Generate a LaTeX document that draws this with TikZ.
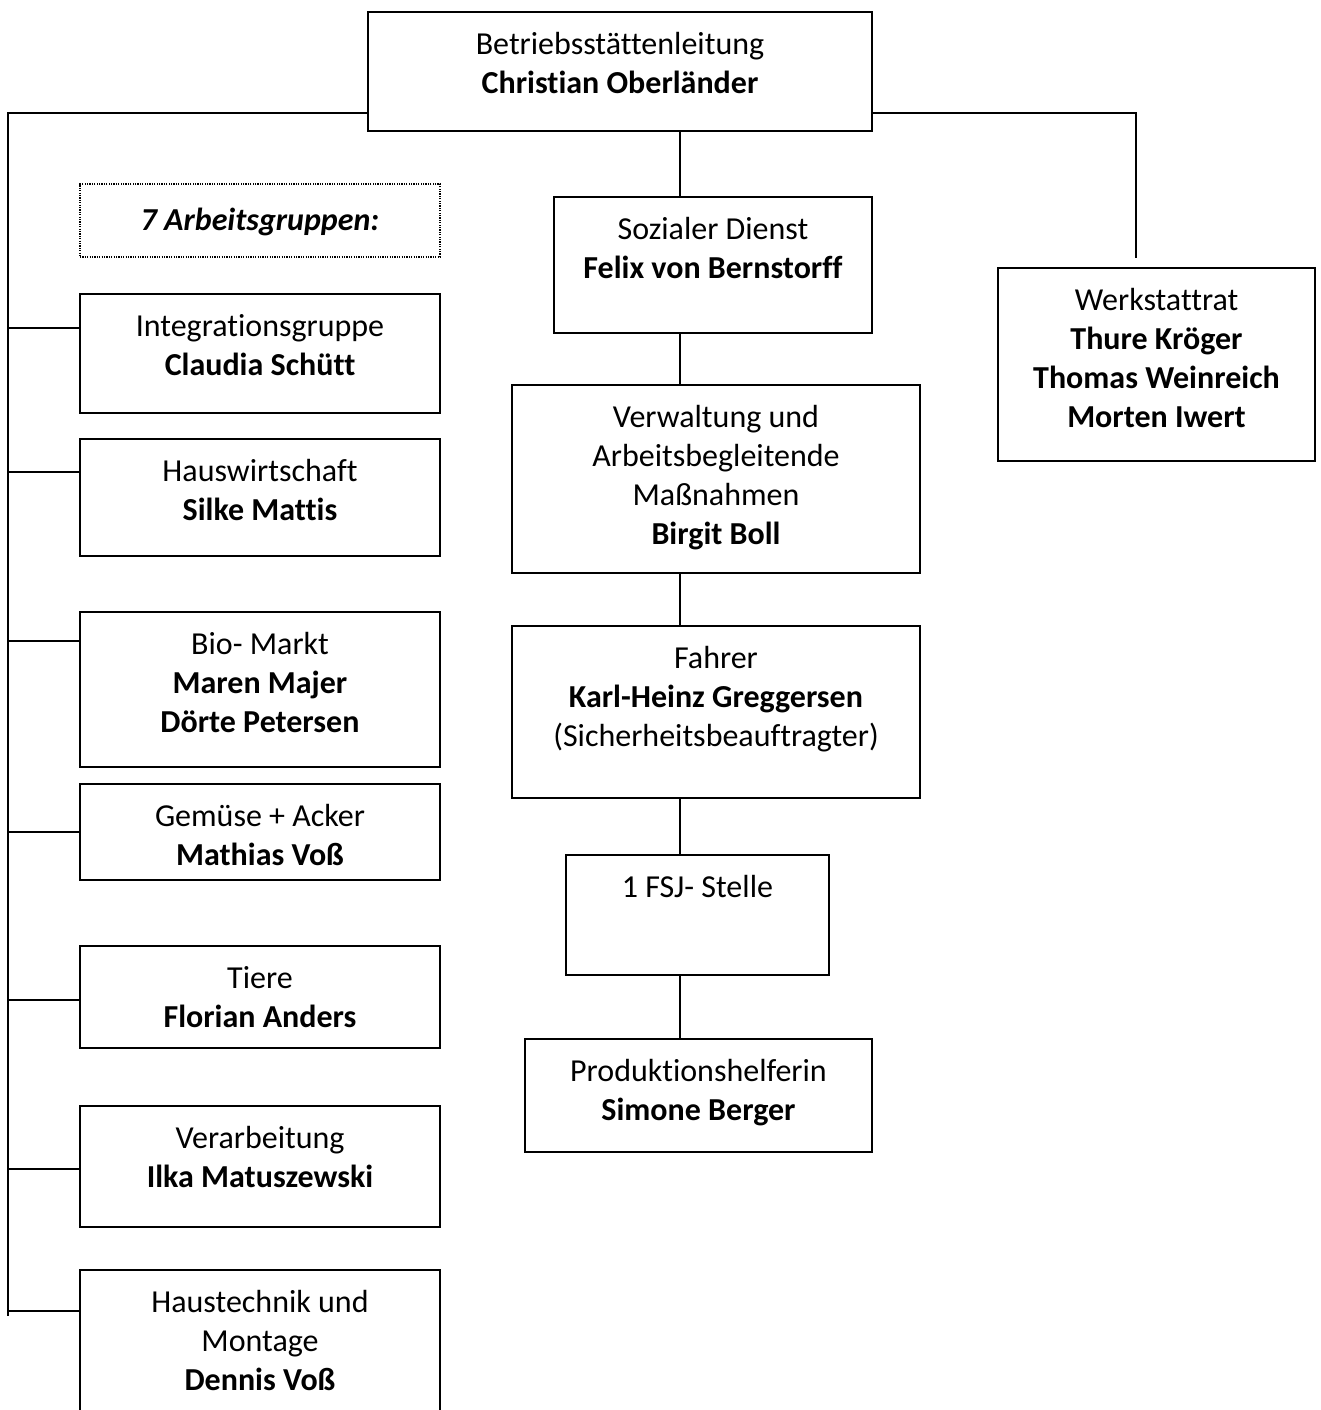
\documentclass[tikz,border=0pt]{standalone}
\usepackage{fontspec}
\setmainfont{Carlito}[Ligatures={NoCommon}]
\usetikzlibrary{fit}
\newcommand\tstrut{\rule{0pt}{30pt}}
\begin{document}
\begin{tikzpicture}[x=1pt,y=-1pt,
  box/.style={draw, line width=2pt, inner sep=0pt, rectangle},
  dotbox/.style={draw, line width=1.2pt, dash pattern=on 1.2pt off 1.2pt, inner sep=0pt, rectangle},
  txt/.style={align=center, inner sep=0pt, anchor=north, yshift=-13pt,
    font=\fontsize{32}{39}\selectfont},
  conn/.style={line width=1.6pt}]
\useasboundingbox (0,0) rectangle (1320,1410);
\clip (0,0) rectangle (1320,1410);
\fill[white] (0,0) rectangle (1320,1410);

% boxes
\node[box, fit={(368,12)(872,131)}] (top) {};
\node[dotbox, fit={(80,184)(440,257)}] (ag) {};
\node[box, fit={(80,294)(440,413)}] (intg) {};
\node[box, fit={(80,439)(440,556)}] (hw) {};
\node[box, fit={(80,612)(440,767)}] (bio) {};
\node[box, fit={(80,784)(440,880)}] (gem) {};
\node[box, fit={(80,946)(440,1048)}] (tie) {};
\node[box, fit={(80,1106)(440,1227)}] (ver) {};
\node[box, fit={(80,1270)(440,1450)}] (ht) {};
\node[box, fit={(554,197)(872,333)}] (soz) {};
\node[box, fit={(512,385)(920,573)}] (vw) {};
\node[box, fit={(512,626)(920,798)}] (fa) {};
\node[box, fit={(566,855)(829,975)}] (fsj) {};
\node[box, fit={(525,1039)(872,1152)}] (ph) {};
\node[box, fit={(998,268)(1315,461)}] (wr) {};

% texts
\node[txt] (topt) at (top.north) {\tstrut Betriebsstättenleitung\\\textbf{Christian Oberländer}};
\node[txt, yshift=-4pt] (agt) at (ag.north) {\tstrut\textbf{\textit{7 Arbeitsgruppen:}}};
\node[txt] (intgt) at (intg.north) {\tstrut Integrationsgruppe\\\textbf{Claudia Schütt}};
\node[txt] (hwt) at (hw.north) {\tstrut Hauswirtschaft\\\textbf{Silke Mattis}};
\node[txt] (biot) at (bio.north) {\tstrut Bio- Markt\\\textbf{Maren Majer}\\\textbf{Dörte Petersen}};
\node[txt] (gemt) at (gem.north) {\tstrut Gemüse + Acker\\\textbf{Mathias Voß}};
\node[txt] (tiet) at (tie.north) {\tstrut Tiere\\\textbf{Florian Anders}};
\node[txt] (vert) at (ver.north) {\tstrut Verarbeitung\\\textbf{Ilka Matuszewski}};
\node[txt] (htt) at (ht.north) {\tstrut Haustechnik und\\Montage\\\textbf{Dennis Voß}};
\node[txt] (sozt) at (soz.north) {\tstrut Sozialer Dienst\\\textbf{Felix von Bernstorff}};
\node[txt] (vwt) at (vw.north) {\tstrut Verwaltung und\\Arbeitsbegleitende\\Maßnahmen\\\textbf{Birgit Boll}};
\node[txt] (fat) at (fa.north) {\tstrut Fahrer\\\textbf{Karl-Heinz Greggersen}\\(Sicherheitsbeauftragter)};
\node[txt] (fsjt) at (fsj.north) {\tstrut 1 FSJ- Stelle};
\node[txt] (pht) at (ph.north) {\tstrut Produktionshelferin\\\textbf{Simone Berger}};
\node[txt] (wrt) at (wr.north) {\tstrut Werkstattrat\\\textbf{Thure Kröger}\\\textbf{Thomas Weinreich}\\\textbf{Morten Iwert}};

% connectors
\coordinate (mx) at (680,0);
\draw[conn] (top.south -| mx) -- (soz.north -| mx);
\draw[conn] (soz.south -| mx) -- (vw.north -| mx);
\draw[conn] (vw.south -| mx) -- (fa.north -| mx);
\draw[conn] (fa.south -| mx) -- (fsj.north -| mx);
\draw[conn] (fsj.south -| mx) -- (ph.north -| mx);

\coordinate (rt) at (1136,113);
\coordinate (rb) at (1136,258);
\draw[conn] (rt -| top.east) -- (rt) -- (rb);

\coordinate (lt) at (8,113);
\coordinate (lb) at (8,1316);
\draw[line width=2pt] (lt -| top.west) -- (lt) -- (lb);

\coordinate (b1) at (8,328);
\coordinate (b2) at (8,472);
\coordinate (b3) at (8,641);
\coordinate (b4) at (8,832);
\coordinate (b5) at (8,1000);
\coordinate (b6) at (8,1169);
\coordinate (b7) at (8,1311);
\draw[conn] (b1) -- (b1 -| intg.west);
\draw[conn] (b2) -- (b2 -| hw.west);
\draw[conn] (b3) -- (b3 -| bio.west);
\draw[conn] (b4) -- (b4 -| gem.west);
\draw[conn] (b5) -- (b5 -| tie.west);
\draw[conn] (b6) -- (b6 -| ver.west);
\draw[conn] (b7) -- (b7 -| ht.west);
\end{tikzpicture}
\end{document}
